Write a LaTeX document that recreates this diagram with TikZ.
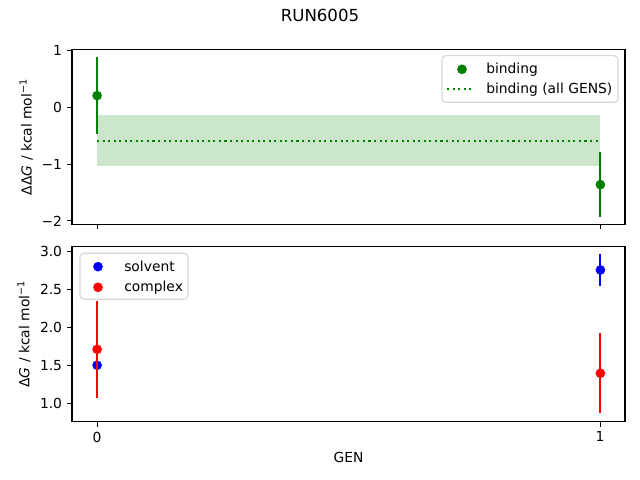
\documentclass[tikz,border=0pt]{standalone}
\usepackage{fontspec}
\setmainfont{DejaVu Sans}
\definecolor{mplgreen}{HTML}{008000}
\definecolor{mplfill}{HTML}{CCE6CC}
\definecolor{legedge}{HTML}{D6D6D6}
\begin{document}
\begin{tikzpicture}[x=0.01in,y=-0.01in,
   axline/.style={line width=0.8pt},
   lab/.style={font=\fontsize{10}{12}\selectfont,inner sep=0pt},
   errbar/.style={line width=1.5pt},
   legbox/.style={draw=legedge,fill=white,rounded corners=2.8pt,line width=0.8pt}]
   \useasboundingbox (0,0) rectangle (640,480);
   \node[font=\fontsize{12}{14}\selectfont,inner sep=0pt,anchor=base] (title) at (320,22) {RUN6005};
   % top panel: binding
   \begin{scope}[shift={(97.1,107.5)},x=5.03in,y=0.567in]
    \fill[mplfill] (0,-0.14) rectangle (1,-1.04);
    \draw[mplgreen,line width=1.5pt,dash pattern=on 1.5pt off 2.5pt] (0,-0.585) -- (1,-0.585);
    \foreach \g/\v/\e in {0/0.21/0.675,1/-1.36/0.57} {
     \draw[errbar,mplgreen] ({\g},{\v-\e}) -- ({\g},{\v+\e});
     \fill[mplgreen] ({\g},{\v}) circle (3.5pt);
    }
   \end{scope}
   \draw[axline] (72,49.3) rectangle (625,224.5);
   \foreach \t/\l [count=\i] in {1/1,0/0,-1/−1,-2/−2} {
    \draw[axline] (72,{107.5-56.7*\t}) -- ++(-4.86,0);
    \node[lab,anchor=east] (ytop\i) at (62.3,{107.5-56.7*\t}) {\l};
   }
   \foreach \g in {0,1}
    \draw[axline] ({97.1+503*\g},224.5) -- ++(0,4.86);
   \node[lab,rotate=90,anchor=base] (ylabtop) at (31.7,136.9)
    {ΔΔ\textit{G} / kcal mol\textsuperscript{−1}};
   % legend top
   \draw[legbox] (442,55.7) rectangle (618,102.3);
   \fill[mplgreen] (462,69.3) circle (3.5pt);
   \node[lab,anchor=west] (legbind) at (486,69.3) {binding};
   \draw[mplgreen,line width=1.5pt,dash pattern=on 1.5pt off 2.5pt] (447,89.3) -- (474,89.3);
   \node[lab,anchor=west] (legall) at (486,89.3) {binding (all GENS)};
   % bottom panel: solvent and complex
   \begin{scope}[shift={(97.1,479.2)},x=5.03in,y=0.759in]
    \foreach \g/\v/\e in {0/1.50/0.04,1/2.755/0.215} {
     \draw[errbar,blue] ({\g},{\v-\e}) -- ({\g},{\v+\e});
     \fill[blue] ({\g},{\v}) circle (3.5pt);
    }
    \foreach \g/\v/\e in {0/1.71/0.64,1/1.395/0.525} {
     \draw[errbar,red] ({\g},{\v-\e}) -- ({\g},{\v+\e});
     \fill[red] ({\g},{\v}) circle (3.5pt);
    }
   \end{scope}
   \draw[axline] (72,246.5) rectangle (625,421.8);
   \foreach \t [count=\i] in {1.0,1.5,2.0,2.5,3.0} {
    \draw[axline] (72,{479.2-75.9*\t}) -- ++(-4.86,0);
    \node[lab,anchor=east] (ybot\i) at (62.3,{479.2-75.9*\t}) {\t};
   }
   \foreach \g in {0,1} {
    \draw[axline] ({97.1+503*\g},421.8) -- ++(0,4.86);
    \node[lab,anchor=north] (xbot\g) at ({97.1+503*\g},431.5) {\g};
   }
   \node[lab,anchor=base] (xlab) at (348.5,462.3) {GEN};
   \node[lab,rotate=90,anchor=base] (ylabbot) at (29.3,334.1)
    {Δ\textit{G} / kcal mol\textsuperscript{−1}};
   % legend bottom
   \draw[legbox] (80,253.3) rectangle (188,299.3);
   \fill[blue] (98,266.7) circle (3.5pt);
   \node[lab,anchor=west] (legsolv) at (124,266.7) {solvent};
   \fill[red] (98,287.3) circle (3.5pt);
   \node[lab,anchor=west] (legcomp) at (124,287.3) {complex};
  \end{tikzpicture}
\end{document}
